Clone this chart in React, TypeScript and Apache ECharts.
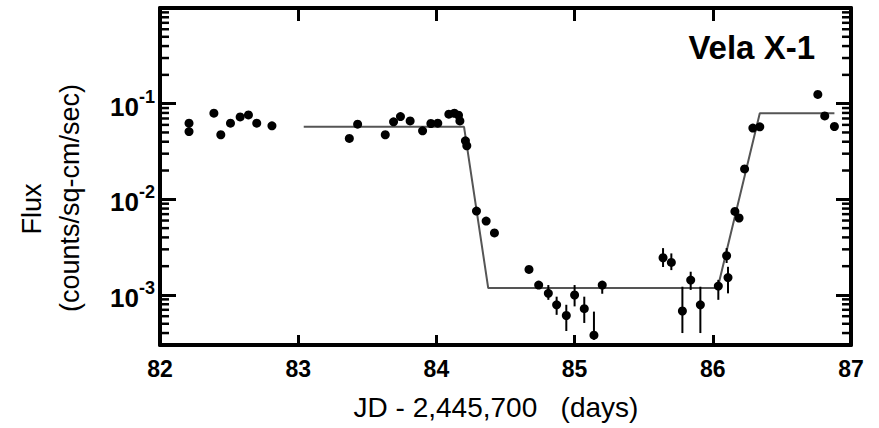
import React, { useEffect, useRef } from 'react';
import * as echarts from 'echarts';

// ---- data ----
const xMin = 82;
const xMax = 87;
const yMinFlux = 3e-4;
const yMaxFlux = 1;

const decadeExps = [-4, -3, -2, -1];
const minorMultipliers = [2, 3, 4, 5, 6, 7, 8, 9];

const obsDay = [
  82.21, 82.21, 82.39, 82.44, 82.51, 82.58, 82.64, 82.70, 82.81,
  83.37, 83.43, 83.63, 83.69, 83.74, 83.81, 83.90, 83.96, 84.01, 84.09, 84.13, 84.16, 84.17, 84.21, 84.22,
  84.29, 84.36, 84.42, 84.67, 84.74, 84.81, 84.87, 84.94, 85.00, 85.07, 85.14, 85.20,
  85.64, 85.70, 85.78, 85.84, 85.91, 86.04, 86.10, 86.11, 86.16, 86.19, 86.23, 86.29, 86.34, 86.76, 86.81, 86.88,
];
const obsFlux = [
  0.0625, 0.0511, 0.0795, 0.0473, 0.0625, 0.0727, 0.0763, 0.0625, 0.0586,
  0.0433, 0.0611, 0.0473, 0.0646, 0.0733, 0.066, 0.052, 0.062, 0.0625, 0.0776, 0.0794, 0.0758, 0.066, 0.0409, 0.0363,
  0.00753, 0.00593, 0.00445, 0.00185, 0.00127, 0.00104, 0.00079, 0.00061, 0.0010, 0.00072, 0.00038, 0.00127,
  0.00245, 0.00219, 0.00068, 0.00143, 0.00079, 0.00124, 0.00257, 0.00152, 0.00748, 0.00638, 0.0208, 0.0555, 0.0573, 0.125, 0.0745, 0.0577,
];

const errDay = [84.74, 84.81, 84.87, 84.94, 85.00, 85.07, 85.14, 85.20, 85.64, 85.70, 85.78, 85.84, 85.91, 86.04, 86.10, 86.11];
const errHigh = [0.00136, 0.00127, 0.00096, 0.00079, 0.00127, 0.00096, 0.00067, 0.00138, 0.00309, 0.00272, 0.00122, 0.00175, 0.00122, 0.00144, 0.00309, 0.00197];
const errLow = [0.00118, 0.00089, 0.00062, 0.00042, 0.00076, 0.00051, 0.00034, 0.00103, 0.00196, 0.00182, 0.0004, 0.00113, 0.0004, 0.00089, 0.00216, 0.00104];

const modelDay = [83.04, 84.20, 84.375, 86.035, 86.34, 86.88];
const modelFlux = [0.0573, 0.0573, 0.00118, 0.00118, 0.0795, 0.0795];

const titleText = 'Vela X-1';
const xTitle = 'JD - 2,445,700   (days)';
const yTitle1 = 'Flux';
const yTitle2 = '(counts/sq-cm/sec)';

const FONT = '"Liberation Sans", Arial, Helvetica, sans-serif';

function frameLine() {
  return { show: true, onZero: false, lineStyle: { color: '#000', width: 4 } };
}
function frameTick(len: number) {
  return { show: true, inside: true, length: len, lineStyle: { color: '#000', width: 3 } };
}

export default function App() {
  const ref = useRef<HTMLDivElement>(null);

  useEffect(() => {
    if (!ref.current) return;
    const chart = echarts.init(ref.current, undefined, { renderer: 'svg' });
    const lg = (v: number) => Math.log10(v);
    const yLo = lg(yMinFlux);
    const yHi = lg(yMaxFlux);

    const minorVals: number[][] = [];
    decadeExps.forEach((k) => {
      minorMultipliers.forEach((m) => {
        const v = lg(m * Math.pow(10, k));
        if (v > yLo && v < yHi) minorVals.push([xMin, v]);
      });
    });

    const yLabelFormatter = (v: number) => {
      const r = Math.round(v);
      if (Math.abs(v - r) > 1e-6 || r >= 0) return '';
      return `{b|10}{s|${r}}`;
    };

    const option: any = {
      animation: false,
      backgroundColor: '#fff',
      grid: { left: 160, right: 28, top: 8, bottom: 83, containLabel: false },
      xAxis: [
        {
          type: 'value', min: xMin, max: xMax, interval: 1, position: 'bottom',
          axisLine: frameLine(), axisTick: frameTick(10), splitLine: { show: false },
          axisLabel: { color: '#000', fontFamily: FONT, fontWeight: 'bold', fontSize: 23, margin: 12 },
        },
        {
          type: 'value', min: xMin, max: xMax, interval: 1, position: 'top',
          axisLine: frameLine(), axisTick: frameTick(13), splitLine: { show: false },
          axisLabel: { show: false },
        },
      ],
      yAxis: [
        {
          type: 'value', min: yLo, max: yHi, splitNumber: 4, minInterval: 1, maxInterval: 1, position: 'left',
          axisLine: frameLine(), axisTick: frameTick(16), splitLine: { show: false },
          axisLabel: {
            margin: 5,
            formatter: yLabelFormatter,
            rich: {
              b: { fontFamily: FONT, fontWeight: 'bold', fontSize: 26, color: '#000', lineHeight: 32, verticalAlign: 'bottom' },
              s: { fontFamily: FONT, fontWeight: 'bold', fontSize: 18, color: '#000', lineHeight: 32, verticalAlign: 'top' },
            },
          },
        },
        {
          type: 'value', min: yLo, max: yHi, splitNumber: 4, minInterval: 1, maxInterval: 1, position: 'right',
          axisLine: frameLine(), axisTick: frameTick(15), splitLine: { show: false },
          axisLabel: { show: false },
        },
      ],
      series: [
        {
          type: 'custom',
          name: 'minorTicks',
          xAxisIndex: 0, yAxisIndex: 0,
          clip: false,
          silent: true,
          encode: { x: 0, y: 1 },
          data: minorVals,
          z: 5,
          renderItem: (params: any, api: any) => {
            const v = api.value(1);
            const pL = api.coord([xMin, v]);
            const pR = api.coord([xMax, v]);
            return {
              type: 'group',
              children: [
                { type: 'line', shape: { x1: pL[0], y1: pL[1], x2: pL[0] + 9, y2: pL[1] }, style: { stroke: '#000', lineWidth: 2.5 } },
                { type: 'line', shape: { x1: pR[0], y1: pR[1], x2: pR[0] - 9, y2: pR[1] }, style: { stroke: '#000', lineWidth: 2.5 } },
              ],
            };
          },
        },
        {
          type: 'line',
          name: 'model',
          xAxisIndex: 0, yAxisIndex: 0,
          data: modelDay.map((d, i) => [d, lg(modelFlux[i])]),
          symbol: 'none',
          lineStyle: { color: '#555', width: 2 },
          z: 2,
        },
        {
          type: 'custom',
          name: 'errors',
          xAxisIndex: 0, yAxisIndex: 0,
          encode: { x: 0, y: [1, 2] },
          data: errDay.map((d, i) => [d, lg(errHigh[i]), lg(errLow[i])]),
          renderItem: (params: any, api: any) => {
            const d = api.value(0);
            const p1 = api.coord([d, api.value(1)]);
            const p2 = api.coord([d, api.value(2)]);
            return {
              type: 'line',
              shape: { x1: p1[0], y1: p1[1], x2: p2[0], y2: p2[1] },
              style: { stroke: '#000', lineWidth: 2 },
            };
          },
          z: 3,
        },
        {
          type: 'scatter',
          name: 'flux',
          xAxisIndex: 0, yAxisIndex: 0,
          data: obsDay.map((d, i) => [d, lg(obsFlux[i])]),
          symbol: 'circle',
          symbolSize: 9,
          itemStyle: { color: '#000', opacity: 1 },
          z: 4,
        },
      ],
      graphic: [
        {
          type: 'text', x: 815, y: 47,
          style: { text: titleText, font: `bold 33px ${FONT}`, fill: '#000', align: 'right', verticalAlign: 'middle' },
        },
        {
          type: 'text', x: 496, y: 407,
          style: { text: xTitle, font: `28px ${FONT}`, fill: '#000', align: 'center', verticalAlign: 'middle' },
        },
        {
          type: 'text', x: 32, y: 209, rotation: Math.PI / 2,
          style: { text: yTitle1, font: `27px ${FONT}`, fill: '#000', align: 'center', verticalAlign: 'middle' },
        },
        {
          type: 'text', x: 70, y: 198, rotation: Math.PI / 2,
          style: { text: yTitle2, font: `27px ${FONT}`, fill: '#000', align: 'center', verticalAlign: 'middle' },
        },
      ],
    };

    chart.setOption(option);
    return () => chart.dispose();
  }, []);

  return (
    <div
      ref={ref}
      style={{ position: 'fixed', left: 0, top: 0, width: 879, height: 428, background: '#fff' }}
    />
  );
}
